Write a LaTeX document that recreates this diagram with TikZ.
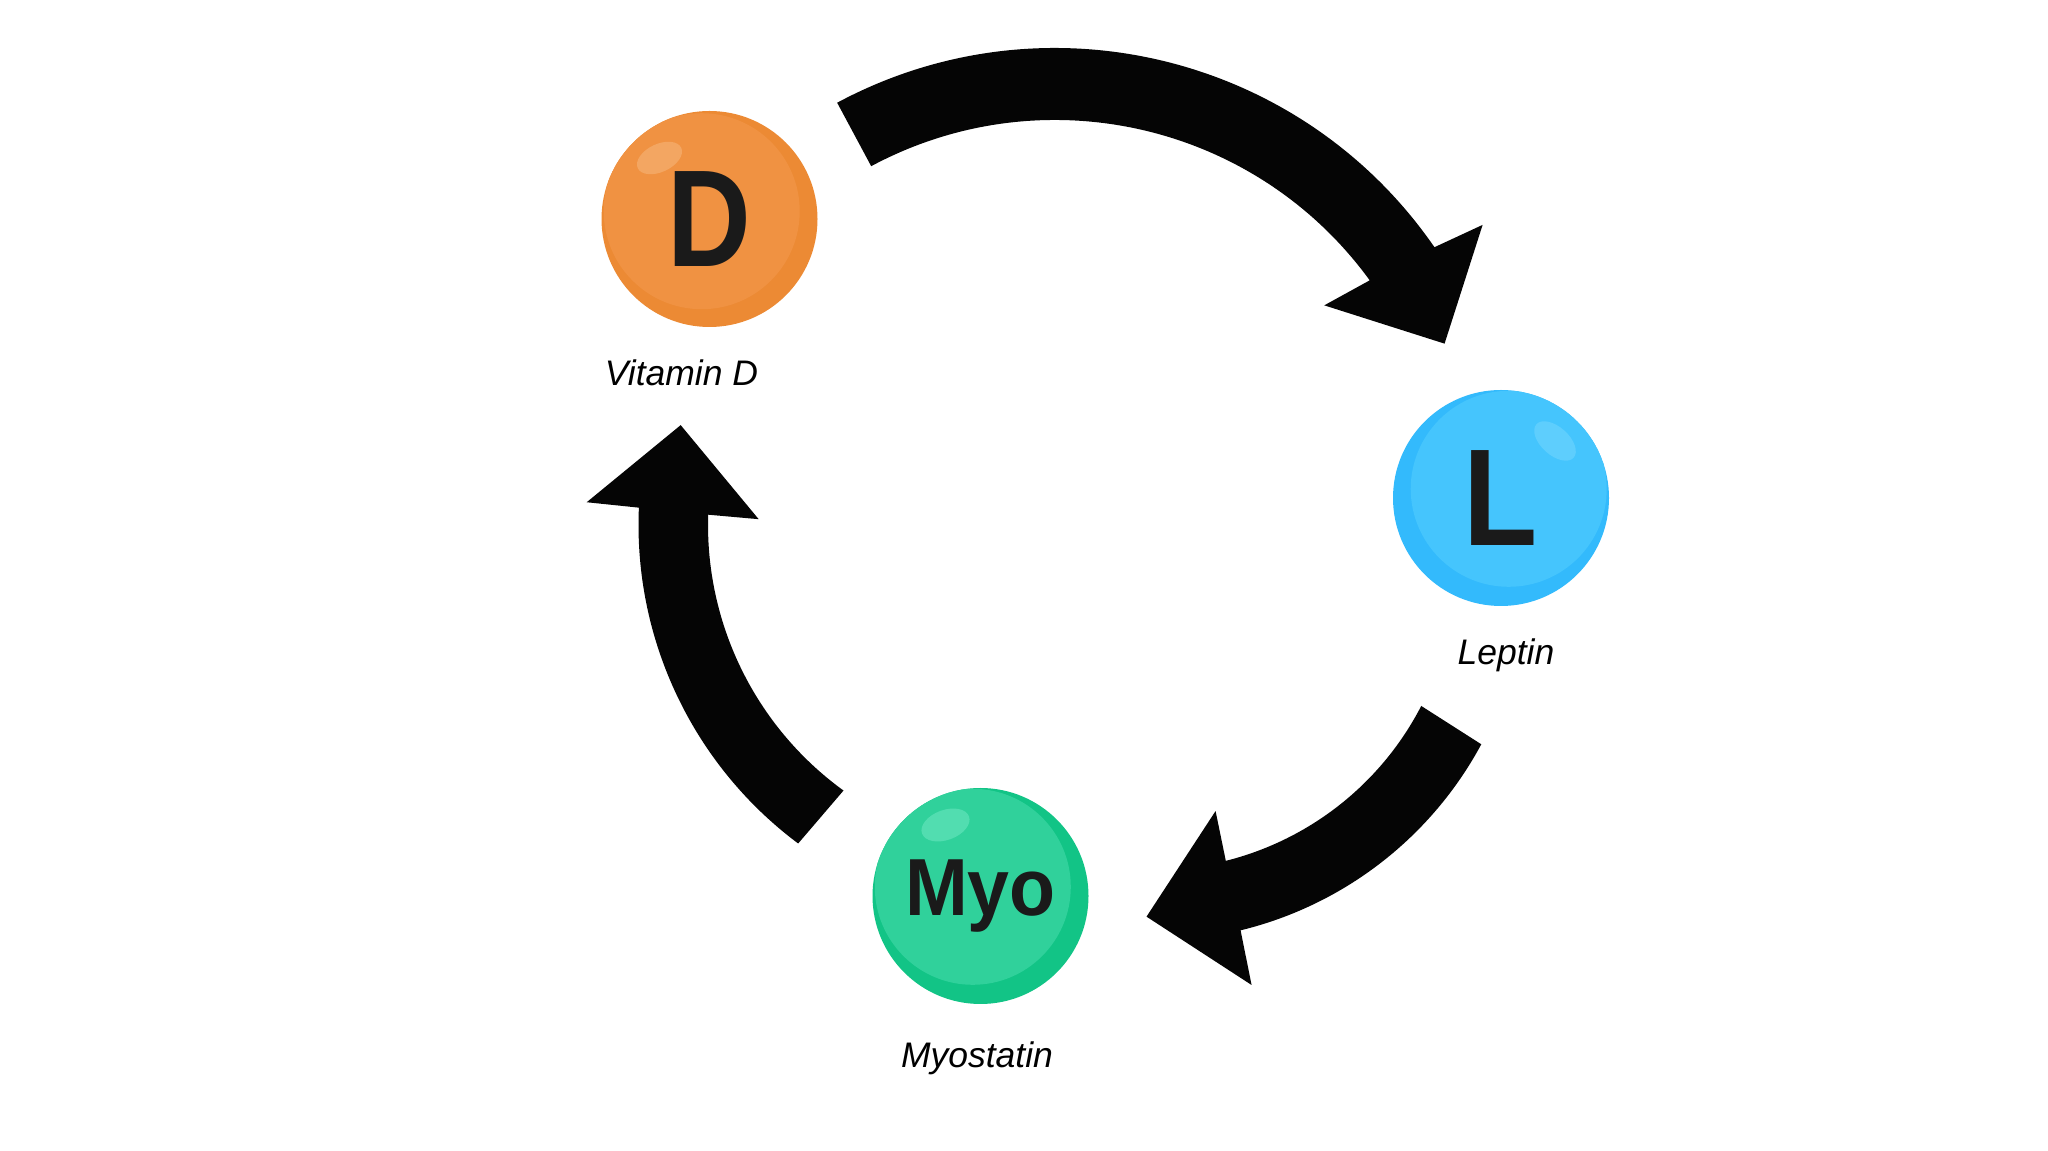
\documentclass[tikz,border=0pt]{standalone}
\usepackage{fontspec}
\setmainfont{Liberation Sans}
\usetikzlibrary{calc}
\definecolor{oMain}{HTML}{F09242}
\definecolor{oDark}{HTML}{EC8A34}
\definecolor{oHi}{HTML}{F3A662}
\definecolor{bMain}{HTML}{45C5FD}
\definecolor{bDark}{HTML}{33BAFC}
\definecolor{bHi}{HTML}{5ECEFD}
\definecolor{gMain}{HTML}{30D19B}
\definecolor{gDark}{HTML}{12C486}
\definecolor{gHi}{HTML}{52DDB0}
\definecolor{ink}{HTML}{1A1A1A}
\definecolor{arrowblack}{HTML}{050505}
\begin{document}
\begin{tikzpicture}[x=1pt,y=1pt,
  letter/.style={circle, minimum size=216pt, inner sep=0pt, text=ink},
  bigletter/.style={letter, font=\fontsize{138}{138}\selectfont\bfseries},
  smallletter/.style={letter, font=\fontsize{81}{81}\selectfont\bfseries},
  lab/.style={anchor=base, inner sep=0pt, text=black, font=\fontsize{35.5}{40}\selectfont\itshape},
  bigarrow/.style={fill=arrowblack}]
\useasboundingbox[fill=white] (0,0) rectangle (2048,1151);

% ball centres
\coordinate (cD) at (709.5,932);
\coordinate (cL) at (1501,653);
\coordinate (cM) at (980.5,255);

% Vitamin D ball
\fill[oDark] (cD) circle[radius=108];
\begin{scope}
  \clip (cD) circle[radius=108];
  \fill[oMain] ($(cD)+(135:11)$) circle[radius=98];
\end{scope}
\begin{scope}[shift={($(cD)+(-50,61)$)}, rotate=25]
  \fill[oHi] (0,0) ellipse[x radius=24, y radius=14];
\end{scope}

% Leptin ball
\fill[bDark] (cL) circle[radius=108];
\begin{scope}
  \clip (cL) circle[radius=108];
  \fill[bMain] ($(cL)+(50:12)$) circle[radius=98];
\end{scope}
\begin{scope}[shift={($(cL)+(54,57)$)}, rotate=-42]
  \fill[bHi] (0,0) ellipse[x radius=25, y radius=14];
\end{scope}

% Myostatin ball
\fill[gDark] (cM) circle[radius=108];
\begin{scope}
  \clip (cM) circle[radius=108];
  \fill[gMain] ($(cM)+(130:12)$) circle[radius=98];
\end{scope}
\begin{scope}[shift={($(cM)+(-35,71)$)}, rotate=20]
  \fill[gHi] (0,0) ellipse[x radius=25, y radius=15];
\end{scope}

% nodes
\node[bigletter] (vitd) at (cD) {\scalebox{0.84}[1]{D}};
\node[bigletter] (leptin) at (cL) {\scalebox{0.88}[1]{L}};
\node[smallletter] (myo) at (cM) {\scalebox{0.93}[1]{Myo}};

\node[lab] (vitdlab) at (681.5,765) {Vitamin D};
\node[lab] (leptinlab) at (1506,486) {Leptin};
\node[lab] (myolab) at (977,83) {Myostatin};

% arrow 1: Vitamin D -> Leptin
\coordinate (c1) at (1055,642);
\path (c1) ++(118.2:461) coordinate (a1to)
      (c1) ++(33.6:513.4) coordinate (a1bo)
      (c1) ++(23.0:423.2) coordinate (a1tip)
      (c1) ++(37.1:337.6) coordinate (a1bi)
      (c1) ++(36.0:389) coordinate (a1ei);
\fill[bigarrow] (a1to) arc[start angle=118.2, end angle=34.6, radius=461]
  -- (a1bo) -- (a1tip) -- (a1bi) -- (a1ei)
  arc[start angle=36.0, end angle=118.2, radius=389] -- cycle;

% arrow 2: Leptin -> Myostatin
\coordinate (c3) at (1152,584);
\path (c3) ++(-28.3:374) coordinate (a2to)
      (c3) ++(-76.6:429.7) coordinate (a2bo)
      (c3) ++(-90.9:349.7) coordinate (a2tip)
      (c3) ++(-75.4:252.2) coordinate (a2bi)
      (c3) ++(-75.9:303) coordinate (a2ei);
\fill[bigarrow] (a2to) arc[start angle=-28.3, end angle=-76.3, radius=374]
  -- (a2bo) -- (a2tip) -- (a2bi) -- (a2ei)
  arc[start angle=-75.9, end angle=-27.3, radius=303] -- cycle;

% arrow 3: Myostatin -> Vitamin D
\coordinate (c2) at (1036,626);
\path (c2) ++(233.25:397.5) coordinate (a3to)
      (c2) ++(177.1:449.9) coordinate (a3bo)
      (c2) ++(164.3:369.1) coordinate (a3tip)
      (c2) ++(178.8:277.4) coordinate (a3bi)
      (c2) ++(178.2:328) coordinate (a3ei);
\fill[bigarrow] (a3to) arc[start angle=233.25, end angle=177.5, radius=397.5]
  -- (a3bo) -- (a3tip) -- (a3bi) -- (a3ei)
  arc[start angle=178.2, end angle=234.06, radius=328] -- cycle;
\end{tikzpicture}
\end{document}
